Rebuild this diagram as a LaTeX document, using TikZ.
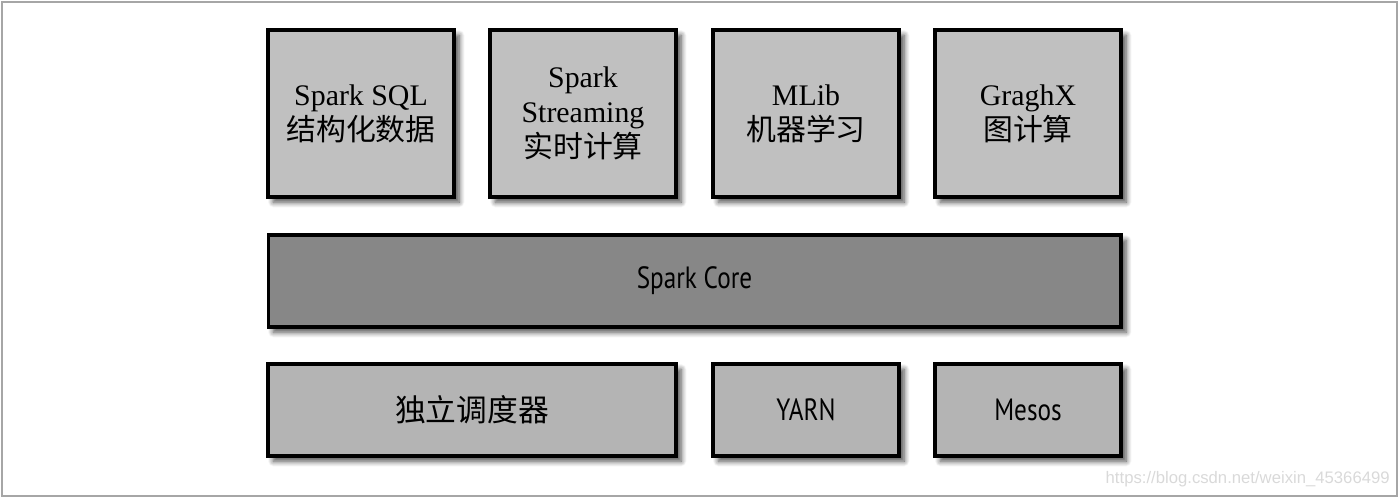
\documentclass[tikz,border=0pt]{standalone}
\usepackage{fontspec}
\setmainfont{Liberation Serif}
\setsansfont[FakeStretch=0.82]{PT Sans}
\newfontfamily\cjk{Noto Sans CJK SC}
\newfontfamily\wmfont{Liberation Sans}
\usetikzlibrary{shadows.blur}

\definecolor{toplight}{RGB}{192,192,192}
\definecolor{coregray}{RGB}{135,135,135}
\definecolor{botgray}{RGB}{180,180,180}

\tikzset{
  layerbox/.style={draw=black,line width=1.8pt,
    blur shadow={shadow xshift=3pt,shadow yshift=-3pt,shadow blur steps=8,shadow blur radius=3pt,shadow opacity=70},
    align=center,inner sep=0pt},
  libbox/.style={layerbox,fill=toplight,minimum width=3.72cm,minimum height=3.34cm,
    font=\fontsize{17}{20}\selectfont},
  corebox/.style={layerbox,fill=coregray,minimum width=17.06cm,minimum height=1.84cm,
    font=\sffamily\fontsize{17.5}{20}\selectfont},
  schedbox/.style={layerbox,fill=botgray,minimum height=1.84cm,
    font=\sffamily\fontsize{17.5}{20}\selectfont}
}

\begin{document}
\begin{tikzpicture}[x=0.02cm,y=-0.02cm]
  \useasboundingbox (0,0) rectangle (1400,498);
  \draw[gray!70,line width=1.1pt] (2,2) rectangle (1397,496);
  % libraries on top
  \foreach \cx/\nm/\txt in {361/sql/{Spark SQL\\{\cjk 结构化数据}},
                             583/stream/{Spark\\Streaming\\{\cjk 实时计算}},
                             806/mlib/{MLib\\{\cjk 机器学习}},
                             1028/graph/{GraghX\\{\cjk 图计算}}} {
    \node[libbox] (\nm) at (\cx,113.5) {\txt};
  }
  % core
  \node[corebox] (core) at (694.5,281) {Spark Core};
  % cluster managers
  \node[schedbox,minimum width=8.16cm] (standalone) at (472,410) {{\cjk 独立调度器}};
  \node[schedbox,minimum width=3.72cm] (yarn) at (806,410) {YARN};
  \node[schedbox,minimum width=3.72cm] (mesos) at (1028,410) {Mesos};
  \node[anchor=base east,text=gray!30,font=\wmfont\fontsize{9.5}{11}\selectfont,inner sep=0pt]
    (mark) at (1390,483) {https://blog.csdn.net/weixin\_45366499};
\end{tikzpicture}
\end{document}
